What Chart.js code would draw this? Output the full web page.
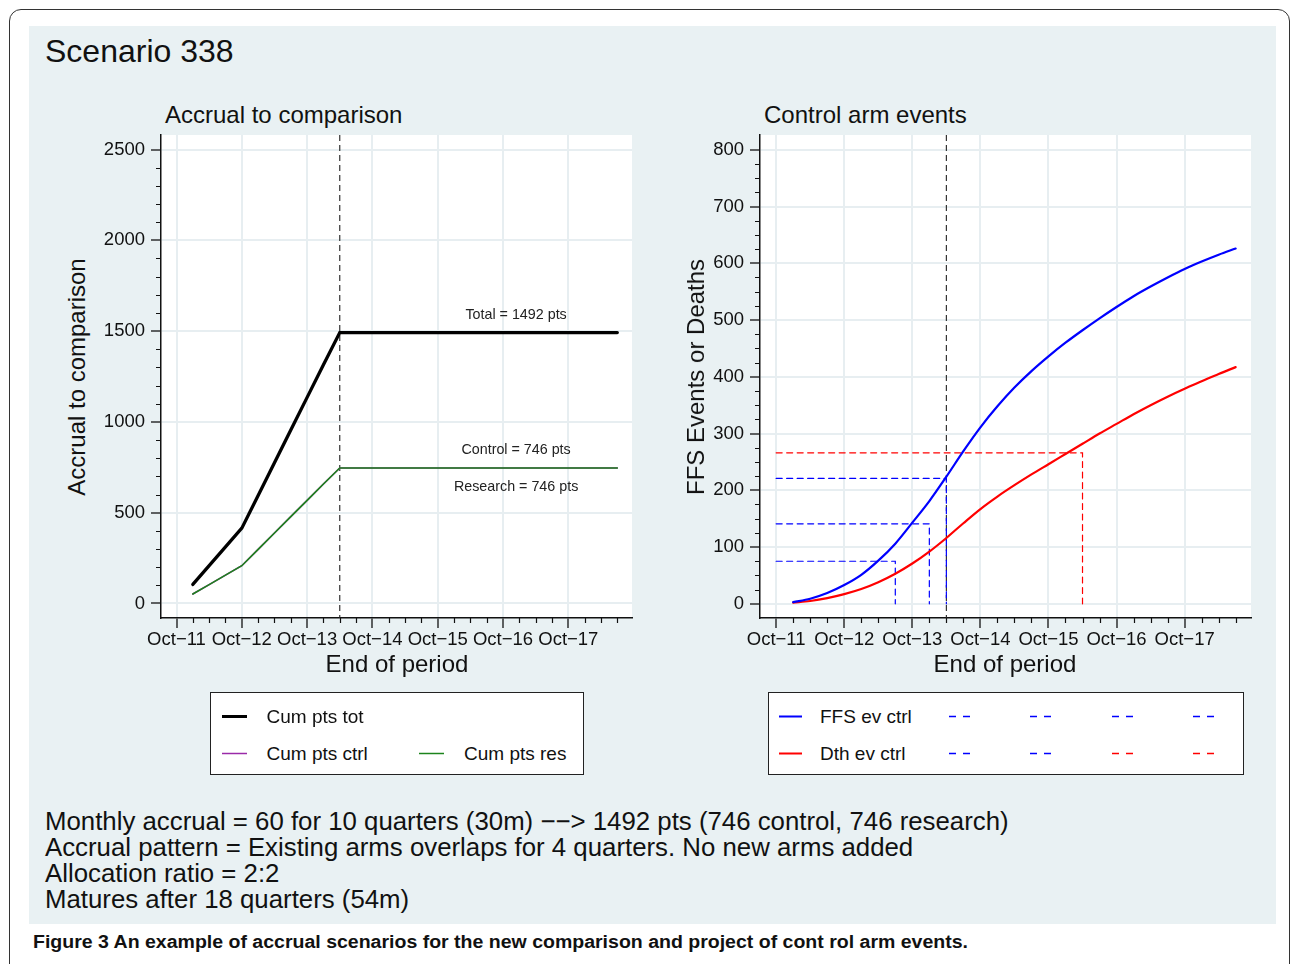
<!DOCTYPE html>
<html>
<head>
<meta charset="utf-8">
<script src="https://cdn.jsdelivr.net/npm/chart.js@4.4.1/dist/chart.umd.min.js"></script>
<style>
  body { margin: 0; width: 1290px; height: 964px; overflow: hidden; background: #fff;
         font-family: 'Liberation Sans', Arial, Helvetica, sans-serif; color: #111; position: relative; }
  .abs { position: absolute; white-space: nowrap; line-height: 1; }
  .frame { position: absolute; left: 9px; top: 9px; width: 1281px; height: 1000px;
           border: 1.5px solid #333; border-radius: 12px; box-sizing: border-box; }
  .panel { position: absolute; left: 29px; top: 26px; width: 1247px; height: 898px; background: #e9f1f3; }
  canvas { position: absolute; }
  .legend { position: absolute; background: #fff; border: 1.5px solid #222; box-sizing: border-box; }
  .legend svg { position: absolute; left: 0; top: 0; }
</style>
</head>
<body>
<div class="frame"></div>
<div class="panel"></div>

<div class="abs" id="scenario" style="left:45px; font-size:32px;">Scenario 338</div>
<div class="abs" id="title-left" style="left:165px; font-size:24px;">Accrual to comparison</div>
<div class="abs" id="title-right" style="left:764px; font-size:24px;">Control arm events</div>

<canvas id="chart-accrual" width="560" height="535" style="left:90px; top:125px;"></canvas>
<canvas id="chart-events" width="570" height="535" style="left:700px; top:125px;"></canvas>

<div class="abs xtitle" style="left:397px; font-size:24px;">End of period</div>
<div class="abs xtitle" style="left:1005px; font-size:24px;">End of period</div>
<div class="abs ytitle" style="left:77px; top:377px; font-size:24px;">Accrual to comparison</div>
<div class="abs ytitle" style="left:696px; top:377px; font-size:24px;">FFS Events or Deaths</div>

<div class="legend" id="legend-left" style="left:210px; top:692px; width:374px; height:83px;"></div>
<div class="legend" id="legend-right" style="left:768px; top:692px; width:476px; height:83px;"></div>

<div id="notes"></div>
<div class="abs" id="caption" style="left:33px; font-size:17.5px; font-weight:bold; transform-origin:left center;">Figure 3 An example of accrual scenarios for the new comparison and project of cont rol arm events.</div>

<script>
// ---------------- data ----------------
const quarters = [1, 2, 3, 4, 5, 6, 7, 8, 9, 10, 11, 12, 13, 14, 15, 16, 17, 18, 19, 20, 21, 22, 23, 24, 25, 26, 27];
const xTickQuarters = [0, 4, 8, 12, 16, 20, 24];
const tickLabels = ['Oct\u221211', 'Oct\u221212', 'Oct\u221213', 'Oct\u221214', 'Oct\u221215', 'Oct\u221216', 'Oct\u221217'];
const accrualTicks = [0, 500, 1000, 1500, 2000, 2500];
const eventTicks = [0, 100, 200, 300, 400, 500, 600, 700, 800];

const cumPtsTot  = [105, 208, 312, 415, 595, 775, 955, 1135, 1315, 1492, 1492, 1492, 1492, 1492, 1492, 1492, 1492, 1492, 1492, 1492, 1492, 1492, 1492, 1492, 1492, 1492, 1492];
const cumPtsCtrl = [52, 104, 156, 208, 298, 388, 478, 568, 658, 746, 746, 746, 746, 746, 746, 746, 746, 746, 746, 746, 746, 746, 746, 746, 746, 746, 746];
const cumPtsRes  = [52, 104, 156, 208, 298, 388, 478, 568, 658, 746, 746, 746, 746, 746, 746, 746, 746, 746, 746, 746, 746, 746, 746, 746, 746, 746, 746];

const ffsEvCtrl = [3, 9, 19, 33, 51, 76, 106, 143, 181, 224, 269, 311, 348, 381, 410, 436, 460, 482, 503, 523, 542, 559, 575, 590, 603, 615, 626];
const dthEvCtrl = [2, 5, 10, 17, 26, 38, 53, 71, 92, 116, 142, 167, 189, 209, 228, 246, 264, 282, 300, 317, 334, 350, 365, 379, 392, 405, 417];

// dashed reference lines (event counts reached by a given quarter)
const markerQuarter = [7, 9, 10, 18];
const markerEvents  = [75, 141, 221, 266];
const markerColour  = ['#0000ff', '#0000ff', '#0000ff', '#ff0000'];
const markerFromQuarter = 0;

const accrualEndQuarter = 10;
const accrualLabels = [
  { text: 'Total = 1492 pts',   x: 20.8, y: 1588 },
  { text: 'Control = 746 pts',  x: 20.8, y: 846 },
  { text: 'Research = 746 pts', x: 20.8, y: 642 }
];

const notes = [
  'Monthly accrual = 60 for 10 quarters (30m) \u2212\u2212> 1492 pts (746 control, 746 research)',
  'Accrual pattern = Existing arms overlaps for 4 quarters. No new arms added',
  'Allocation ratio = 2:2',
  'Matures after 18 quarters (54m)'
];

// ---------------- text placement helpers ----------------
const FONT = "'Liberation Sans', Arial, Helvetica, sans-serif";
const setBaseline = (el, baseline) => {
  const size = parseFloat(el.style.fontSize);
  el.style.top = (baseline - 0.8465 * size) + 'px';
};
setBaseline(document.getElementById('scenario'), 62);
setBaseline(document.getElementById('title-left'), 123);
setBaseline(document.getElementById('title-right'), 123);
document.querySelectorAll('.xtitle').forEach(el => {
  setBaseline(el, 672);
  el.style.transform = 'translateX(-50%)';
});
document.querySelectorAll('.ytitle').forEach(el => {
  el.style.transform = 'translate(-50%,-50%) rotate(-90deg)';
});

const notesEl = document.getElementById('notes');
notes.forEach((line, i) => {
  const d = document.createElement('div');
  d.className = 'abs';
  d.style.left = '45px';
  d.style.fontSize = '25.8px';
  d.textContent = line;
  notesEl.appendChild(d);
  setBaseline(d, 831 + i * 26);
});

const caption = document.getElementById('caption');
setBaseline(caption, 949);
caption.style.transform = 'scaleX(' + (935 / caption.getBoundingClientRect().width) + ')';

// ---------------- legends ----------------
const buildLegend = (boxId, items) => {
  const box = document.getElementById(boxId);
  const r = box.getBoundingClientRect();
  const ns = 'http://www.w3.org/2000/svg';
  const svg = document.createElementNS(ns, 'svg');
  svg.setAttribute('width', r.width);
  svg.setAttribute('height', r.height);
  box.appendChild(svg);
  items.forEach(it => {
    if (it.line) {
      const ln = document.createElementNS(ns, 'line');
      ln.setAttribute('x1', it.x - r.left);
      ln.setAttribute('x2', it.x + it.len - r.left);
      ln.setAttribute('y1', it.y - r.top);
      ln.setAttribute('y2', it.y - r.top);
      ln.setAttribute('stroke', it.color);
      ln.setAttribute('stroke-width', it.width);
      if (it.dash) ln.setAttribute('stroke-dasharray', it.dash);
      svg.appendChild(ln);
    } else {
      const t = document.createElement('div');
      t.className = 'abs';
      t.style.fontSize = '19px';
      t.style.left = (it.x - r.left) + 'px';
      t.textContent = it.text;
      box.appendChild(t);
      setBaseline(t, it.y - r.top);
    }
  });
};

buildLegend('legend-left', [
  { line: true, x: 221, len: 25, y: 715.5, color: '#000', width: 3 },
  { text: 'Cum pts tot', x: 265.5, y: 722 },
  { line: true, x: 221, len: 25, y: 752.5, color: '#9a2aa8', width: 1.5 },
  { text: 'Cum pts ctrl', x: 265.5, y: 759 },
  { line: true, x: 418, len: 25, y: 752.5, color: '#1c841c', width: 1.5 },
  { text: 'Cum pts res', x: 463, y: 759 }
]);

const dashCols = [948, 1029, 1111, 1192];
const dashRow1 = ['#0000ff', '#0000ff', '#0000ff', '#0000ff'];
const dashRow2 = ['#0000ff', '#0000ff', '#ff0000', '#ff0000'];
const rightItems = [
  { line: true, x: 778, len: 23, y: 715.5, color: '#0000ff', width: 2 },
  { text: 'FFS ev ctrl', x: 819, y: 722 },
  { line: true, x: 778, len: 23, y: 752.5, color: '#ff0000', width: 2 },
  { text: 'Dth ev ctrl', x: 819, y: 759 }
];
dashCols.forEach((cx, i) => {
  rightItems.push({ line: true, x: cx, len: 21, y: 715.5, color: dashRow1[i], width: 1.5, dash: '7 7' });
  rightItems.push({ line: true, x: cx, len: 21, y: 752.5, color: dashRow2[i], width: 1.5, dash: '7 7' });
});
buildLegend('legend-right', rightItems);

// ---------------- chart helpers ----------------
Chart.defaults.font.family = FONT;
Chart.defaults.color = '#111';

const stataExtras = {
  id: 'stataExtras',
  beforeDraw(chart) {
    const { ctx, chartArea: a } = chart;
    ctx.save();
    ctx.fillStyle = '#fff';
    ctx.fillRect(a.left, a.top, a.right - a.left, a.bottom - a.top);
    ctx.restore();
  },
  beforeDatasetsDraw(chart, args, opts) {
    if (opts.xline == null) return;
    const { ctx, chartArea: a, scales: { x } } = chart;
    const px = x.getPixelForValue(opts.xline);
    ctx.save();
    ctx.strokeStyle = '#222';
    ctx.lineWidth = 1.1;
    ctx.setLineDash([6, 4]);
    ctx.beginPath();
    ctx.moveTo(px, a.top);
    ctx.lineTo(px, a.bottom);
    ctx.stroke();
    ctx.restore();
  },
  afterDatasetsDraw(chart, args, opts) {
    const { ctx, scales: { x, y } } = chart;
    ctx.save();
    ctx.fillStyle = '#222';
    ctx.font = '14.3px ' + FONT;
    ctx.textAlign = 'center';
    ctx.textBaseline = 'middle';
    (opts.labels || []).forEach(l => ctx.fillText(l.text, x.getPixelForValue(l.x), y.getPixelForValue(l.y)));
    ctx.restore();
  },
  afterDraw(chart, args, opts) {
    const { ctx, chartArea: a, scales: { x, y } } = chart;
    ctx.save();
    ctx.strokeStyle = '#111';
    ctx.lineWidth = 1.2;
    ctx.beginPath();
    const ym = opts.yMinor;
    for (let v = ym.from; v <= ym.to; v += ym.step) {
      if (v % ym.major === 0) continue;
      const py = Math.round(y.getPixelForValue(v)) + 0.5;
      ctx.moveTo(a.left - 5, py);
      ctx.lineTo(a.left, py);
    }
    const xm = opts.xMinor;
    for (let v = xm.from; v <= xm.to; v += xm.step) {
      if (v % xm.major === 0) continue;
      const px = Math.round(x.getPixelForValue(v)) + 0.5;
      ctx.moveTo(px, a.bottom);
      ctx.lineTo(px, a.bottom + 5);
    }
    ctx.stroke();
    ctx.restore();
  }
};

const gridStyle = { color: '#e7eef1', lineWidth: 2, tickColor: '#111', tickLength: 10, tickWidth: 1.3 };
const borderStyle = { display: true, color: '#111', width: 1.5 };

const makeScales = (yMin, yMax, yTicks, yWidth) => ({
  x: {
    type: 'linear', min: -0.95, max: 27.9,
    grid: gridStyle, border: borderStyle,
    ticks: {
      autoSkip: false, maxRotation: 0, padding: 1,
      font: { size: 18.5 },
      callback: v => tickLabels[xTickQuarters.indexOf(v)]
    },
    afterBuildTicks: s => { s.ticks = xTickQuarters.map(v => ({ value: v })); },
    afterFit: s => { s.height = 42; s.paddingLeft = 0; s.paddingRight = 0; }
  },
  y: {
    type: 'linear', min: yMin, max: yMax,
    grid: gridStyle, border: borderStyle,
    ticks: { padding: 6, font: { size: 18.5 }, callback: v => String(v) },
    afterBuildTicks: s => { s.ticks = yTicks.map(v => ({ value: v })); },
    afterFit: s => { s.width = yWidth; s.paddingTop = 0; s.paddingBottom = 0; }
  }
});

const series = vals => quarters.map((q, i) => ({ x: q, y: vals[i] }));

// ---------------- accrual chart ----------------
new Chart(document.getElementById('chart-accrual'), {
  type: 'line',
  data: {
    datasets: [
      { label: 'Cum pts tot', data: series(cumPtsTot), borderColor: '#000', borderWidth: 3.3, order: 0 },
      { label: 'Cum pts res', data: series(cumPtsRes), borderColor: '#1c841c', borderWidth: 1.6, order: 1 },
      { label: 'Cum pts ctrl', data: series(cumPtsCtrl), borderColor: '#9a2aa8', borderWidth: 1.6, order: 2 }
    ]
  },
  options: {
    responsive: false, animation: false,
    layout: { padding: { top: 10, right: 18, left: 0, bottom: 0 } },
    elements: { point: { radius: 0 }, line: { tension: 0, borderCapStyle: 'round' } },
    scales: makeScales(-80, 2580, accrualTicks, 71),
    plugins: {
      legend: { display: false }, tooltip: { enabled: false },
      stataExtras: {
        xline: accrualEndQuarter,
        labels: accrualLabels,
        yMinor: { from: 0, to: 2500, step: 100, major: 500 },
        xMinor: { from: 1, to: 27, step: 1, major: 4 }
      }
    }
  },
  plugins: [stataExtras]
});

// ---------------- events chart ----------------
const markerSets = markerQuarter.map((q, i) => ({
  label: '',
  data: [
    { x: markerFromQuarter, y: markerEvents[i] },
    { x: q, y: markerEvents[i] },
    { x: q, y: 0 }
  ],
  borderColor: markerColour[i], borderWidth: 1.2, borderDash: [6, 4.5], tension: 0, order: 5
}));

new Chart(document.getElementById('chart-events'), {
  type: 'line',
  data: {
    datasets: [
      { label: 'FFS ev ctrl', data: series(ffsEvCtrl), borderColor: '#0000ff', borderWidth: 2.2, cubicInterpolationMode: 'monotone', order: 0 },
      { label: 'Dth ev ctrl', data: series(dthEvCtrl), borderColor: '#ff0000', borderWidth: 2.2, cubicInterpolationMode: 'monotone', order: 1 },
      ...markerSets
    ]
  },
  options: {
    responsive: false, animation: false,
    layout: { padding: { top: 10, right: 19, left: 0, bottom: 0 } },
    elements: { point: { radius: 0 }, line: { tension: 0, borderCapStyle: 'round' } },
    scales: makeScales(-25, 826, eventTicks, 60),
    plugins: {
      legend: { display: false }, tooltip: { enabled: false },
      stataExtras: {
        xline: accrualEndQuarter,
        yMinor: { from: 0, to: 800, step: 25, major: 100 },
        xMinor: { from: 1, to: 27, step: 1, major: 4 }
      }
    }
  },
  plugins: [stataExtras]
});
</script>
</body>
</html>
